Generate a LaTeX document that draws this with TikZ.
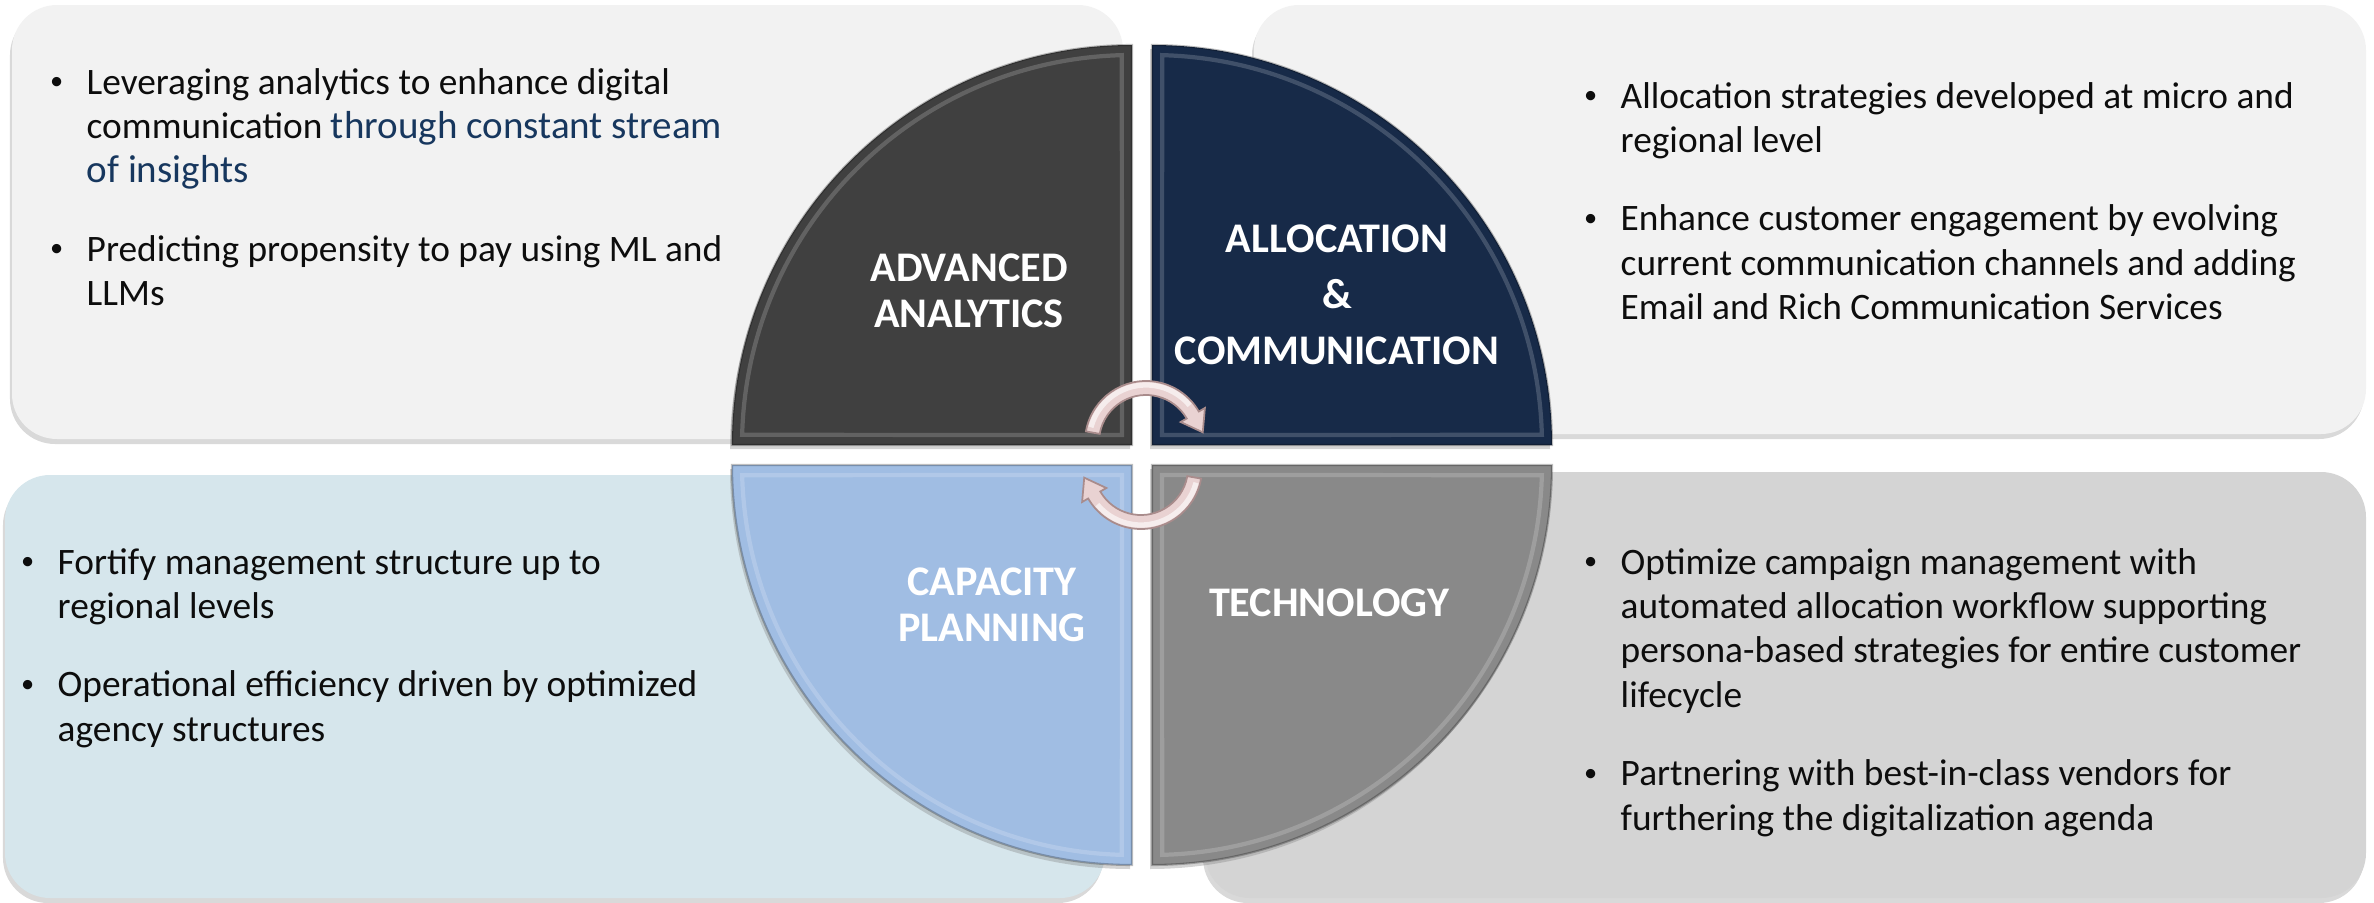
\documentclass[tikz,border=0pt]{standalone}
\usepackage{fontspec}
\setmainfont{Carlito}
\usepackage{tikz}
\usetikzlibrary{calc}
\usetikzlibrary{shadows}

\definecolor{boxgrey}{HTML}{F2F2F2}
\definecolor{boxblue}{HTML}{D6E6EC}
\definecolor{boxdark}{HTML}{D4D4D4}
\definecolor{qanalytics}{HTML}{404040}
\definecolor{qalloc}{HTML}{172A48}
\definecolor{qcapacity}{HTML}{A0BDE3}
\definecolor{qtech}{HTML}{898989}
\definecolor{textnavy}{HTML}{17375E}
\definecolor{arrowpink}{HTML}{E9D2D2}
\definecolor{arrowedge}{HTML}{A98C8C}

\newcommand{\bodyfont}{\fontsize{10.62}{12.63}\selectfont}
\newcommand{\navyfont}{\fontsize{11.1}{12.63}\selectfont\color{textnavy}}
\newcommand{\labelfont}{\fontsize{12}{13.1}\selectfont\bfseries}
\newcommand{\bul}{\makebox[0.6cm][c]{\raisebox{0.25ex}{\fontsize{7.5}{12.63}\selectfont\textbullet}}}

\tikzset{
  infobox/.style={rounded corners=0.45cm,
    drop shadow={shadow xshift=-0.02cm, shadow yshift=-0.05cm, opacity=0.3}},
  itemtext/.style={anchor=base west, inner sep=0pt, text=black!95},
  quarterlabel/.style={align=center, text=white, inner sep=0pt}
}

\begin{document}
\begin{tikzpicture}[x=0.01cm, y=-0.01cm]

  \useasboundingbox (0,0) rectangle (2374,903);

  % text boxes
  \fill[infobox, fill=boxgrey] (12,5) rectangle (1123,439);
  \fill[infobox, fill=boxgrey] (1254,5) rectangle (2366,434);
  \fill[infobox, fill=boxblue] (5,475) rectangle (1105,898);
  \fill[infobox, fill=boxdark] (1205,472) rectangle (2366,898);

  % quarters: corner x, corner y, start angle, colour
  \foreach \cx/\cy/\s/\col in {1132/445/180/qanalytics, 1152/445/270/qalloc,
                               1152/465/0/qtech, 1132/465/90/qcapacity}{
    \fill[\col, drop shadow={shadow xshift=-0.02cm, shadow yshift=-0.04cm, opacity=0.35}]
    (\cx,\cy) -- ($(\cx,\cy)+(\s:400)$)
    arc[start angle=\s, end angle=\s+90, radius=400] -- cycle;
    \draw[white, opacity=0.18, line width=1.2pt]
    ($(\cx,\cy)+(\s+45:14.1)$) -- ($(\cx,\cy)+(\s+1.5:390)$)
    arc[start angle=\s+1.5, end angle=\s+88.5, radius=390] -- cycle;
    \draw[black, opacity=0.25, line width=0.6pt]
    (\cx,\cy) -- ($(\cx,\cy)+(\s:400)$)
    arc[start angle=\s, end angle=\s+90, radius=400] -- cycle;
  }

  % quarter labels
  \node (analytics) [quarterlabel, font=\labelfont] at (969,291)
  {ADVANCED\\ANALYTICS};
  \node (alloc) [quarterlabel, font=\fontsize{12}{15.9}\selectfont\bfseries]
  at (1337,295) {ALLOCATION\\\&\\COMMUNICATION};
  \node (capacity) [quarterlabel, font=\labelfont] at (992,605)
  {CAPACITY\\PLANNING};
  \node (tech) [quarterlabel, font=\labelfont] at (1329,603) {TECHNOLOGY};

  % cycle arrows
  \coordinate (ta) at (1146,442);
  \coordinate (ba) at (1141,468);
  \filldraw[fill=arrowpink, draw=arrowedge, line width=0.5pt]
  ($(ta)+(190:61)$) arc[start angle=190, end angle=330, radius=61]
  -- ($(ta)+(330:68)$) -- ($(ta)+(330:54)+(60:20)$) -- ($(ta)+(330:40)$)
  -- ($(ta)+(330:47)$) arc[start angle=330, end angle=190, radius=47] -- cycle;
  \filldraw[fill=arrowpink, draw=arrowedge, line width=0.5pt]
  ($(ba)+(10:61)$) arc[start angle=10, end angle=150, radius=61]
  -- ($(ba)+(150:68)$) -- ($(ba)+(150:54)+(240:20)$) -- ($(ba)+(150:40)$)
  -- ($(ba)+(150:47)$) arc[start angle=150, end angle=10, radius=47] -- cycle;
  \draw[white, opacity=0.6, line width=1.5pt]
  ($(ta)+(195:57)$) arc[start angle=195, end angle=320, radius=57];
  \draw[white, opacity=0.6, line width=1.5pt]
  ($(ba)+(15:57)$) arc[start angle=15, end angle=140, radius=57];

  % bullet texts
  \node (analyticstext) [itemtext, font=\bodyfont] at (26,94) {%
    \begin{tabular}[t]{@{}l@{}l@{}}
      \bul & Leveraging analytics to enhance digital\\
           & communication {\navyfont through constant stream}\\
           & {\navyfont of insights}\\[9.7pt]
      \bul & Predicting propensity to pay using ML and\\
           & LLMs
    \end{tabular}};
  \node (alloctext) [itemtext, font=\bodyfont] at (1560,108) {%
    \begin{tabular}[t]{@{}l@{}l@{}}
      \bul & Allocation strategies developed at micro and\\
           & regional level\\[9.7pt]
      \bul & Enhance customer engagement by evolving\\
           & current communication channels and adding\\
           & Email and Rich Communication Services
    \end{tabular}};
  \node (capacitytext) [itemtext, font=\bodyfont] at (-3,574) {%
    \begin{tabular}[t]{@{}l@{}l@{}}
      \bul & Fortify management structure up to\\
           & regional levels\\[9.7pt]
      \bul & Operational efficiency driven by optimized\\
           & agency structures
    \end{tabular}};
  \node (techtext) [itemtext, font=\bodyfont] at (1560,574) {%
    \begin{tabular}[t]{@{}l@{}l@{}}
      \bul & Optimize campaign management with\\
           & automated allocation workflow supporting\\
           & persona-based strategies for entire customer\\
           & lifecycle\\[9.7pt]
      \bul & Partnering with best-in-class vendors for\\
           & furthering the digitalization agenda
    \end{tabular}};

\end{tikzpicture}
\end{document}
